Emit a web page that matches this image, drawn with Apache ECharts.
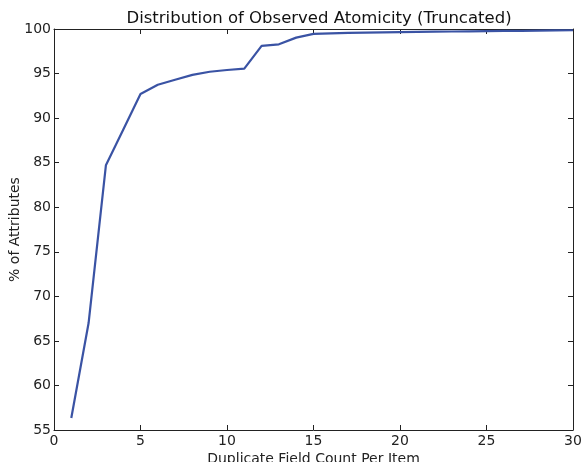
<!DOCTYPE html>
<html>
<head>
<meta charset="utf-8">
<script src="https://cdn.jsdelivr.net/npm/echarts@6/dist/echarts.min.js"></script>
<style>
html,body{margin:0;padding:0;background:#fff;}
#chart{width:582px;height:462px;}
</style>
</head>
<body>
<div id="chart"></div>
<script>
const titleText = "Distribution of Observed Atomicity (Truncated)";
const xAxisName = "Duplicate Field Count Per Item";
const yAxisName = "% of Attributes";
const fieldCounts = [1, 2, 3, 4, 5, 6, 7, 8, 9, 10, 11, 12, 13, 14, 15, 16, 17, 18, 19, 20, 21, 22, 23, 24, 25, 26, 27, 28, 29, 30];
const pctAttributes = [56.35, 67.0, 84.7, 88.7, 92.7, 93.75, 94.3, 94.85, 95.2, 95.4, 95.55, 98.1, 98.28, 99.03, 99.45, 99.52, 99.56, 99.6, 99.63, 99.66, 99.68, 99.7, 99.72, 99.74, 99.76, 99.78, 99.8, 99.82, 99.84, 99.86];

const font = "DejaVu Sans";
const axisColor = "#222";
const chart = echarts.init(document.getElementById('chart'), null, {renderer: 'canvas'});
const seriesData = fieldCounts.map((x, i) => [x, pctAttributes[i]]);

const baseX = {
  type: 'value', min: 0, max: 30, interval: 5,
  axisLine: {show: true, onZero: false, lineStyle: {color: axisColor, width: 1}},
  axisTick: {show: true, inside: true, length: 5, lineStyle: {color: axisColor}},
  splitLine: {show: false}
};
const baseY = {
  type: 'value', min: 55, max: 100, interval: 5,
  axisLine: {show: true, onZero: false, lineStyle: {color: axisColor, width: 1}},
  axisTick: {show: true, inside: true, length: 5, lineStyle: {color: axisColor}},
  splitLine: {show: false}
};

chart.setOption({
  animation: false,
  backgroundColor: '#fff',
  title: {
    text: titleText, left: 314, top: 5, textAlign: 'center',
    textStyle: {fontFamily: font, fontSize: 16.5, fontWeight: 'normal', color: '#111'}
  },
  grid: {left: 54, right: 9, top: 29, bottom: 32, containLabel: false, outerBoundsMode: 'none'},
  xAxis: [
    Object.assign({}, baseX, {
      position: 'bottom',
      name: xAxisName, nameLocation: 'middle', nameGap: 22, nameMoveOverlap: false,
      nameTextStyle: {fontFamily: font, fontSize: 14, color: '#222'},
      axisLabel: {fontFamily: font, fontSize: 14, color: '#222', margin: 4}
    }),
    Object.assign({}, baseX, {position: 'top', axisLabel: {show: false}})
  ],
  yAxis: [
    Object.assign({}, baseY, {
      position: 'left',
      name: yAxisName, nameLocation: 'middle', nameGap: 32, nameMoveOverlap: false,
      nameTextStyle: {fontFamily: font, fontSize: 14, color: '#222'},
      axisLabel: {fontFamily: font, fontSize: 14, color: '#222', margin: 3}
    }),
    Object.assign({}, baseY, {position: 'right', axisLabel: {show: false}})
  ],
  series: [{
    type: 'line', data: seriesData, xAxisIndex: 0, yAxisIndex: 0,
    showSymbol: false, symbol: 'none',
    lineStyle: {color: '#3a53a4', width: 2.2}
  }]
});
</script>
</body>
</html>
